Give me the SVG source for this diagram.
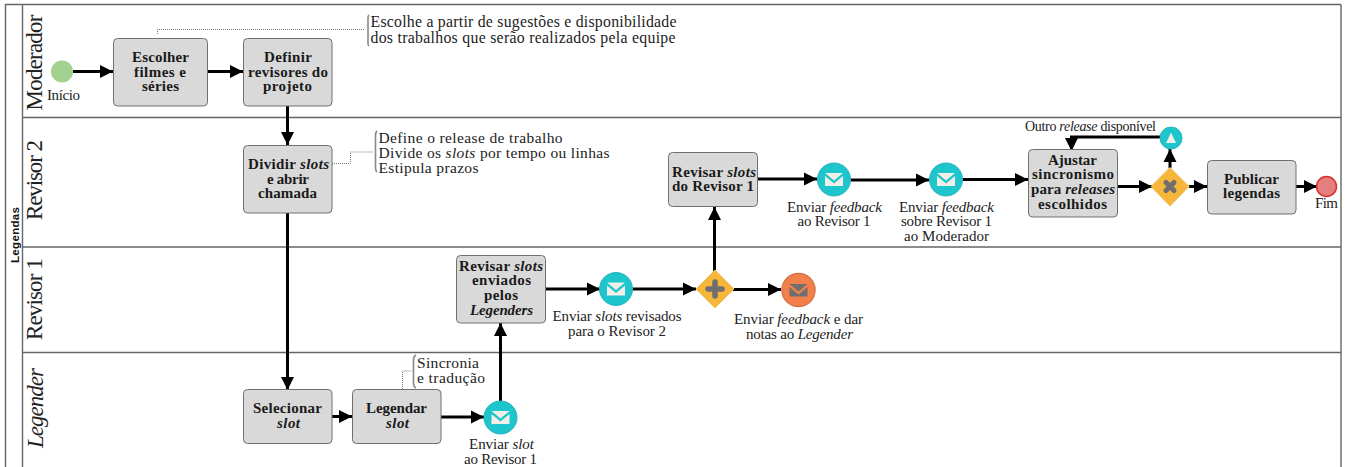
<svg xmlns="http://www.w3.org/2000/svg" width="1345" height="467" viewBox="0 0 1345 467">
<style>
text{font-family:"Liberation Serif","DejaVu Serif",serif;fill:#111}
.b{font-weight:bold;font-size:15px;text-anchor:middle;fill:#1a1a1a}
.l{font-size:15px;text-anchor:middle;fill:#222}
.n{font-size:15.8px;fill:#222}
.n2{font-size:15.5px;fill:#222}
.lane{font-size:23px;text-anchor:middle;fill:#222}
.t{fill:#d9d9d9;stroke:#707070;stroke-width:1}
.c{fill:none;stroke:#000;stroke-width:3}
.d{fill:none;stroke:#777;stroke-width:1;stroke-dasharray:1 1}
.br{fill:none;stroke:#888;stroke-width:1.6}
.p{fill:none;stroke:#666;stroke-width:1.4}
.m{fill:#1dc5cd;stroke:#27b3bb;stroke-width:1}
.env{fill:#f1efe6}
.gw{fill:#f5b63a;stroke:#f0c060;stroke-width:1}
.g{fill:#6f6f6f}
.i{font-style:italic}
</style>
<defs>
<marker id="a" markerUnits="userSpaceOnUse" markerWidth="14" markerHeight="14" refX="13" refY="7" orient="auto"><path d="M0,0.500L13,7L0,13.500Z" fill="#000"/></marker>
<g id="mail"><path class="env" d="M-9,-6.500H9L0,1ZM-9,-3.500L0,4L9,-3.500V6.500H-9Z"/></g>
</defs>
<g id="pool">
<path class="p" d="M1341,4.500H5.500V467M22.500,4.500V467M1341,4.500V467M22.500,117.500H1341M22.500,247H1341M22.500,352.500H1341"/>
<text transform="translate(19,235) rotate(-90)" text-anchor="middle" style="font-family:'Liberation Sans',sans-serif;font-weight:bold;font-size:11.500px" textLength="56">Legendas</text>
<text class="lane" transform="translate(42,62.500) rotate(-90)" textLength="96">Moderador</text>
<text class="lane" transform="translate(42,180) rotate(-90)" textLength="80">Revisor 2</text>
<text class="lane" transform="translate(42,299) rotate(-90)" textLength="82">Revisor 1</text>
<text class="lane i" transform="translate(43,408) rotate(-90)" textLength="80">Legender</text>
</g>
<g id="connectors">
<path class="c" marker-end="url(#a)" d="M73,71.500H113"/>
<path class="c" marker-end="url(#a)" d="M207,71.500H243"/>
<path class="c" marker-end="url(#a)" d="M287.500,105V145"/>
<path class="c" marker-end="url(#a)" d="M287.500,213V390"/>
<path class="c" marker-end="url(#a)" d="M332,416.500H352"/>
<path class="c" marker-end="url(#a)" d="M441,417H484"/>
<path class="c" marker-end="url(#a)" d="M500.500,401V323"/>
<path class="c" marker-end="url(#a)" d="M545,289H600"/>
<path class="c" marker-end="url(#a)" d="M633,289H696"/>
<path class="c" marker-end="url(#a)" d="M714.500,271V207"/>
<path class="c" marker-end="url(#a)" d="M733,289.500H781"/>
<path class="c" marker-end="url(#a)" d="M757,179H817"/>
<path class="c" marker-end="url(#a)" d="M851,180H929"/>
<path class="c" marker-end="url(#a)" d="M963,179.500H1028"/>
<path class="c" marker-end="url(#a)" d="M1117,186.500H1152"/>
<path class="c" marker-end="url(#a)" d="M1170,168V149"/>
<path class="c" marker-end="url(#a)" d="M1189,186.500H1207"/>
<path class="c" marker-end="url(#a)" d="M1296,186.500H1317"/>
<path class="c" marker-end="url(#a)" d="M1160,137H1071.500V151"/>
<path class="d" d="M157.500,34V29.500H365"/>
<path class="d" d="M332,163.500H350.500V152H373"/>
<path class="d" d="M402.500,389V371H412"/>
</g>
<g id="start"><circle cx="62" cy="71.500" r="11" fill="#a3d190"/><text class="l" x="63.500" y="100" textLength="33">Início</text></g>
<g id="escolher"><rect class="t" x="113.500" y="38.500" width="94" height="67.500" rx="4"/><text class="b" x="160.500" y="62" textLength="57">Escolher</text><text class="b" x="160" y="77" textLength="52">filmes e</text><text class="b" x="160.500" y="91" textLength="37">séries</text></g>
<g id="definir"><rect class="t" x="243.500" y="38.500" width="88.500" height="67.500" rx="4"/><text class="b" x="288" y="62" textLength="48">Definir</text><text class="b" x="288" y="77" textLength="80">revisores do</text><text class="b" x="287.500" y="91" textLength="49">projeto</text></g>
<g id="dividir"><rect class="t" x="243.500" y="145.500" width="88.500" height="67.500" rx="4"/><text class="b" x="288.500" y="169" textLength="81">Dividir <tspan class="i">slots</tspan></text><text class="b" x="288" y="184" textLength="42">e abrir</text><text class="b" x="287.500" y="198" textLength="59">chamada</text></g>
<g id="selecionar"><rect class="t" x="243.500" y="389.500" width="88.500" height="54" rx="4"/><text class="b" x="287.500" y="413" textLength="69">Selecionar</text><text class="b i" x="288.500" y="428" textLength="23">slot</text></g>
<g id="legendar"><rect class="t" x="352.500" y="389.500" width="88.500" height="54" rx="4"/><text class="b" x="396.500" y="413" textLength="61">Legendar</text><text class="b i" x="397.500" y="428" textLength="23">slot</text></g>
<g id="revisar-enviados"><rect class="t" x="456.500" y="255.500" width="89" height="67.500" rx="4"/><text class="b" x="501" y="271" textLength="84">Revisar <tspan class="i">slots</tspan></text><text class="b" x="501.500" y="285" textLength="59">enviados</text><text class="b" x="501" y="300" textLength="34">pelos</text><text class="b i" x="501.500" y="315" textLength="63">Legenders</text></g>
<g id="revisar-r1"><rect class="t" x="668.500" y="152.500" width="89" height="54" rx="4"/><text class="b" x="714" y="177" textLength="84">Revisar <tspan class="i">slots</tspan></text><text class="b" x="713" y="191" textLength="82">do Revisor 1</text></g>
<g id="ajustar"><rect class="t" x="1028.500" y="149.500" width="89" height="67.500" rx="4"/><text class="b" x="1072.500" y="165" textLength="49">Ajustar</text><text class="b" x="1073" y="179" textLength="82">sincronismo</text><text class="b" x="1073" y="194" textLength="84">para <tspan class="i">releases</tspan></text><text class="b" x="1072.500" y="209" textLength="69">escolhidos</text></g>
<g id="publicar"><rect class="t" x="1207.500" y="160.500" width="88.500" height="53.500" rx="4"/><text class="b" x="1251.500" y="184" textLength="55">Publicar</text><text class="b" x="1251.500" y="198" textLength="57">legendas</text></g>
<g id="ev-slot"><circle class="m" cx="500.500" cy="417.500" r="16.500"/><use href="#mail" x="500.500" y="417.500"/><text class="l" x="501.500" y="449" textLength="65">Enviar <tspan class="i">slot</tspan></text><text class="l" x="500.500" y="464" textLength="73">ao Revisor 1</text></g>
<g id="ev-revisados"><circle class="m" cx="616" cy="289" r="16.500"/><use href="#mail" x="616" y="289"/><text class="l" x="617" y="321" textLength="129">Enviar <tspan class="i">slots</tspan> revisados</text><text class="l" x="617" y="336" textLength="98">para o Revisor 2</text></g>
<g id="ev-notas"><circle cx="798.500" cy="290" r="16.500" fill="#f2804a" stroke="#d9744a" stroke-width="1.500"/><path class="g" d="M789.500,284H807.500L798.500,291.500ZM789.500,287L798.500,294.500L807.500,287V296.500H789.500Z"/><text class="l" x="798.500" y="324" textLength="129">Enviar <tspan class="i">feedback</tspan> e dar</text><text class="l" x="799.500" y="339" textLength="107">notas ao <tspan class="i">Legender</tspan></text></g>
<g id="ev-fb1"><circle class="m" cx="834" cy="179.500" r="16.500"/><use href="#mail" x="834" y="179.500"/><text class="l" x="834.500" y="212" textLength="95">Enviar <tspan class="i">feedback</tspan></text><text class="l" x="834" y="226" textLength="73">ao Revisor 1</text></g>
<g id="ev-fb2"><circle class="m" cx="946" cy="179.500" r="16.500"/><use href="#mail" x="946" y="179.500"/><text class="l" x="946.500" y="212" textLength="95">Enviar <tspan class="i">feedback</tspan></text><text class="l" x="946.500" y="226" textLength="91">sobre Revisor 1</text><text class="l" x="946.500" y="241" textLength="85">ao Moderador</text></g>
<g id="gw-and"><path class="gw" d="M715,270L734,289L715,308L696,289Z"/><path d="M715,282V296M708,289H722" fill="none" stroke="#6f6f6f" stroke-width="5.500" stroke-linecap="round"/></g>
<g id="gw-xor"><path class="gw" d="M1170,167.500L1189,186.500L1170,206L1151,186.500Z"/><path d="M1166,182.500L1174,190.500M1174,182.500L1166,190.500" fill="none" stroke="#6f6f6f" stroke-width="5" stroke-linecap="round"/></g>
<g id="ev-release"><circle class="m" cx="1171" cy="138" r="11"/><path d="M1171,132.500L1176,143H1166Z" class="env"/><text class="l" style="font-size:14px" x="1090.500" y="131" textLength="131">Outro <tspan class="i">release</tspan> disponível</text></g>
<g id="end"><circle cx="1326.500" cy="186.500" r="10" fill="#e57f7f" stroke="#d9302e" stroke-width="1.500"/><text class="l" x="1326.500" y="208" textLength="23">Fim</text></g>
<g id="note-1"><path class="br" d="M369,15C367.500,16 368,18 368,20V41C368,43 367.500,45 369,46"/><text class="n" x="370.500" y="27" textLength="306">Escolhe a partir de sugestões e disponibilidade</text><text class="n" x="370.500" y="43" textLength="305">dos trabalhos que serão realizados pela equipe</text></g>
<g id="note-2"><path class="br" d="M377,131C375.500,132 375.500,134 375.500,136V167C375.500,169 375.500,171 377,172"/><text class="n2" x="378.500" y="143" textLength="184">Define o release de trabalho</text><text class="n2" x="378.500" y="158" textLength="231">Divide os <tspan class="i">slots</tspan> por tempo ou linhas</text><text class="n2" x="378.500" y="173" textLength="100">Estipula prazos</text></g>
<g id="note-3"><path class="br" d="M416,355C414,356 413.500,358 413.500,360V383C413.500,385 414,387 416,388"/><text class="n2" x="417" y="368" textLength="62">Sincronia</text><text class="n2" x="417" y="383" textLength="68">e tradução</text></g>
</svg>
